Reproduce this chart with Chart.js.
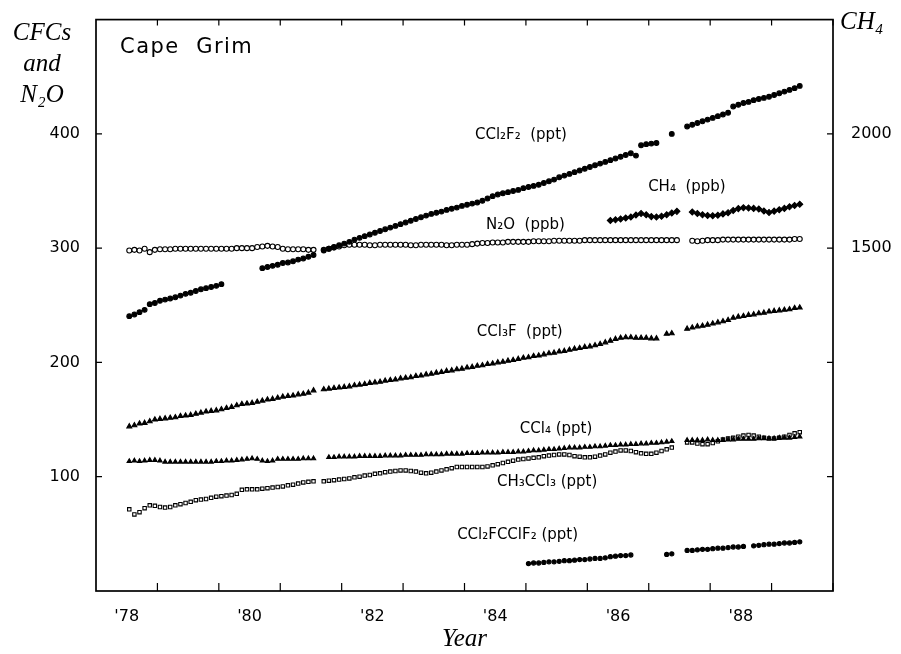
<!DOCTYPE html>
<html>
<head>
<meta charset="utf-8">
<script src="https://cdn.jsdelivr.net/npm/chart.js@4.4.0/dist/chart.umd.min.js"></script>
<style>
  html, body { margin: 0; padding: 0; background: #fff; }
  #wrap { width: 901px; height: 654px; }
</style>
</head>
<body>
<div id="wrap"><canvas id="cfc-chart" width="901" height="654"></canvas></div>
<script>
// monthly means, first value is July 1978
const firstMonth = 1978.5;

const yearTicks = [1979, 1980, 1981, 1982, 1983, 1984, 1985, 1986, 1987, 1988, 1989, 1990];
const labelYears = [1978, 1980, 1982, 1984, 1986, 1988];
const leftTicks = [100, 200, 300, 400];
const rightTicks = [500, 1000, 1500, 2000];
const rightLabels = [1500, 2000];

// CCl2F2 (ppt)
const cfc12 = [
  240.5, 242, 244, 246, 251, 252,
  254, 255, 256, 257, 258.5, 260, 261, 262.5, 264, 265, 266, 267,
  268.5, null, null, null, null, null, null, null, 282.5, 283.5, 284.5, 285.5,
  287, 287.5, 288.5, 290, 291, 292.5, 294, null, 298, 299.5, 301, 302.5,
  304, 305.5, 307.5, 309, 310.5, 312, 313.5, 315, 316.5, 318, 319.5, 321,
  322.5, 324, 325.5, 327, 328.5, 330, 331, 332, 333.5, 334.5, 335.5, 337,
  338, 339, 340, 341.5, 343.5, 345.5, 347, 348, 349, 350, 351, 352.5,
  353.5, 354.5, 355.5, 357, 358.5, 360, 362, 363.5, 365, 366.5, 368, 369.5,
  371, 372.5, 374, 375.5, 377, 378.5, 380, 381.5, 383, 381, 390, 391,
  391.5, 392, null, null, 400, null, null, 406.5, 408, 409.5, 411, 412.5,
  414, 415.5, 417, 418.5, 424, 425.5, 427, 428, 429.5, 430.5, 431.5, 432.5,
  434, 435.5, 437, 438.5, 440, 442
];

// N2O (ppb)
const n2o = [
  298, 298.5, 298, 299.5, 296.5, 298.5,
  299, 299, 299, 299.5, 299.5, 299.5, 299.5, 299.5, 299.5, 299.5, 299.5, 299.5,
  299.5, 299.5, 299.5, 300, 300, 300, 300, 301, 301.5, 302, 301.5, 301,
  299.5, 299, 299, 299, 299, 298.5, 298.5, null, 298.5, 299.5, 300.5, 301.5,
  302.5, 303, 303, 303, 303, 302.5, 302.5, 303, 303, 303, 303, 303,
  303, 302.5, 302.5, 303, 303, 303, 303, 303, 302.5, 302.5, 303, 303,
  303, 303.5, 304, 304.5, 304.5, 305, 305, 305, 305.5, 305.5, 305.5, 305.5,
  305.5, 306, 306, 306, 306, 306.5, 306.5, 306.5, 306.5, 306.5, 306.5, 307,
  307, 307, 307, 307, 307, 307, 307, 307, 307, 307, 307, 307,
  307, 307, 307, 307, 307, 307, null, null, 306.5, 306, 306.5, 307,
  307, 307, 307.5, 307.5, 307.5, 307.5, 307.5, 307.5, 307.5, 307.5, 307.5, 307.5,
  307.5, 307.5, 307.5, 307.5, 308, 308
];

// CH4 (ppb), starts May 1986
const ch4Start = 94;
const ch4 = [
  1621, 1624, 1628, 1632, 1636, 1645, 1652, 1646,
  1638, 1636, 1640, 1646, 1654, 1661, null, null, 1658, 1652, 1646, 1643,
  1642, 1644, 1650, 1655, 1665, 1673, 1677, 1676, 1674, 1671, 1663, 1656,
  1662, 1668, 1674, 1681, 1687, 1692
];

// CCl3F (ppt)
const cfc11 = [
  144, 145, 146.5, 147, 148.5, 150,
  150.5, 151, 151.5, 152, 153, 153.5, 154, 155, 156, 157, 157.5, 158,
  159, 160, 161, 162.5, 163.5, 164, 164.5, 165.5, 166.5, 167.5, 168, 169,
  170, 170.5, 171, 172, 172.5, 173.5, 175.5, null, 176.5, 177, 177.5, 178,
  178.5, 179, 180, 180.5, 181, 182, 182.5, 183, 184, 184.5, 185, 186,
  186.5, 187, 188, 188.5, 189.5, 190, 191, 191.5, 192.5, 193, 194, 194.5,
  195.5, 196, 197, 197.5, 198.5, 199, 200, 200.5, 201.5, 202, 203, 204,
  204.5, 205.5, 206, 207, 208, 208.5, 209.5, 210, 211, 212, 212.5, 213.5,
  214, 215, 216, 217.5, 219, 220.5, 221.5, 222, 222, 221.5, 221.5, 221.5,
  221, 221, null, 225, 225.5, null, null, 229.5, 230.5, 231.5, 232, 233,
  234, 235, 236, 237, 239, 240, 240.5, 241.5, 242, 243, 243.5, 244.5,
  245, 245.5, 246, 246.5, 247.5, 248
];

// CCl4 (ppt)
const ccl4 = [
  113.5, 114, 113.5, 114, 114.5, 114.5,
  114, 113, 113, 113, 113, 113, 113, 113, 113, 113, 113, 113.5,
  113.5, 114, 114, 114.5, 115, 115.5, 116, 115.5, 114, 113.5, 114, 115.5,
  115.5, 115.5, 115.5, 115.5, 116, 116, 116, null, null, 117, 117, 117.5,
  117.5, 117.5, 117.5, 118, 118, 118, 118, 118, 118.5, 118.5, 118.5, 118.5,
  119, 119, 119, 119, 119.5, 119.5, 119.5, 119.5, 120, 120, 120, 120,
  120.5, 120.5, 120.5, 121, 121, 121, 121, 121.5, 121.5, 121.5, 122, 122,
  122.5, 123, 123, 123.5, 124, 124, 124.5, 125, 125.5, 125.5, 125.5, 126,
  126, 126.5, 126.5, 127, 127.5, 127.5, 128, 128, 128.5, 128.5, 129, 129,
  129.5, 129.5, 130, 130.5, 131, null, null, 132, 132, 132, 132, 132.5,
  132, 132, 132, 132.5, 132.5, 133, 133, 133, 133, 133.5, 133.5, 133.5,
  133.5, 134, 134, 134, 134.5, 135
];

// CH3CCl3 (ppt)
const ch3ccl3 = [
  71.5, 67, 69, 72.5, 75, 74.5,
  73.5, 73, 73.5, 75, 76, 77, 78, 79.5, 80, 80.5, 81.5, 82.5,
  83, 83.5, 84, 85, 88.5, 89, 89, 89, 89.5, 90, 90.5, 91,
  91.5, 92.5, 93, 94, 95, 95.5, 96, null, 96, 96.5, 97, 97.5,
  98, 98.5, 99.5, 100, 101, 101.5, 102.5, 103, 104, 104.5, 105, 105.5,
  105.5, 105, 104.5, 103.5, 103, 103.5, 104.5, 105.5, 106.5, 107.5, 108.5, 108.5,
  108.5, 108.5, 108.5, 108.5, 109, 110, 111, 112, 113, 114, 115, 115.5,
  116, 116.5, 117, 118, 118.5, 119, 119.5, 119.5, 119, 118, 117.5, 117,
  117, 117.5, 118.5, 119.5, 121, 122, 123, 123, 122.5, 121.5, 120.5, 120,
  120, 121, 122.5, 124, 125.5, null, null, 130, 130, 129, 128.5, 128.5,
  129.5, 131, 132.5, 133.5, 134, 135, 136, 136.5, 136, 135, 134, 133.5,
  133.5, 134, 135, 136.5, 138, 139
];

// CCl2FCClF2 (ppt), starts January 1985
const cfc113Start = 78;
const cfc113 = [
  24, 24.5, 24.5, 25, 25.5, 25.5, 26, 26.5, 26.5, 27, 27.5, 27.5,
  28, 28.5, 28.5, 29, 30, 30.5, 31, 31, 31.5,
  null, null, null, null, null, null, 32, 32.5, null, null,
  35.5, 35.5, 36, 36.5, 36.5, 37, 37.5, 37.5, 38, 38.5, 38.5, 39, null,
  39.5, 40, 40.5, 41, 41, 41.5, 42, 42, 42.5, 43
];

// text placed in the plot, at year / left-axis value
const seriesLabels = [
  { text: "CCl\u2082F\u2082  (ppt)", year: 1984.17, value: 398.5 },
  { text: "CH\u2084  (ppb)", year: 1986.99, value: 353 },
  { text: "N\u2082O  (ppb)", year: 1984.35, value: 320 },
  { text: "CCl\u2083F  (ppt)", year: 1984.2, value: 226.5 },
  { text: "CCl\u2084 (ppt)", year: 1984.9, value: 141.5 },
  { text: "CH\u2083CCl\u2083 (ppt)", year: 1984.53, value: 95 },
  { text: "CCl\u2082FCClF\u2082 (ppt)", year: 1983.88, value: 48.5 }
];

const toPoints = (values, start) => values.map((v, k) => ({ x: firstMonth + (start + k + 0.5) / 12, y: v }));

const markers = (data, style, radius, filled, axis) => ({
  data: data,
  yAxisID: axis || "y",
  showLine: false,
  pointStyle: style,
  pointRadius: radius,
  pointBorderWidth: 1.1,
  pointBorderColor: "#000",
  pointBackgroundColor: filled ? "#000" : "#fff"
});

//drawing the frame, inward ticks and all the text
const framePlugin = {
  id: "frame",
  afterDraw(chart) {
    const { ctx, chartArea: a, scales } = chart;
    ctx.save();
    ctx.strokeStyle = "#000";
    ctx.lineWidth = 1.7;
    ctx.strokeRect(a.left, a.top, a.right - a.left, a.bottom - a.top);

    ctx.lineWidth = 1.2;
    ctx.beginPath();
    yearTicks.forEach(yr => {
      const px = scales.x.getPixelForValue(yr);
      ctx.moveTo(px, a.bottom); ctx.lineTo(px, a.bottom - 8);
      ctx.moveTo(px, a.top); ctx.lineTo(px, a.top + 6);
    });
    leftTicks.forEach(v => {
      const py = scales.y.getPixelForValue(v);
      ctx.moveTo(a.left, py); ctx.lineTo(a.left + 6, py);
    });
    rightTicks.forEach(v => {
      const py = scales.y2.getPixelForValue(v);
      ctx.moveTo(a.right, py); ctx.lineTo(a.right - 6, py);
    });
    ctx.stroke();

    ctx.fillStyle = "#000";
    ctx.textBaseline = "middle";
    ctx.textAlign = "left";
    ctx.font = "15px 'DejaVu Sans'";
    seriesLabels.forEach(l => {
      ctx.fillText(l.text, scales.x.getPixelForValue(l.year), scales.y.getPixelForValue(l.value));
    });

    ctx.font = "21px 'DejaVu Sans'";
    ctx.letterSpacing = "1.5px";
    ctx.fillText("Cape  Grim", 120, 48);
    ctx.letterSpacing = "0px";

    ctx.textBaseline = "alphabetic";
    ctx.font = "italic 25px 'Liberation Serif', 'DejaVu Serif', serif";
    ctx.textAlign = "center";
    ctx.fillText("CFCs", 42, 40);
    ctx.fillText("and", 42, 71);
    ctx.fillText("N\u2082O", 42, 102);
    ctx.fillText("Year", (a.left + a.right) / 2, 646);
    ctx.textAlign = "left";
    ctx.fillText("CH\u2084", 840, 29);
    ctx.restore();
  }
};

const tickFont = { family: "DejaVu Sans", size: 16 };

new Chart("cfc-chart", {
  type: "scatter",
  data: {
    datasets: [
      markers(toPoints(cfc12, 0), "circle", 2.4, true),
      markers(toPoints(n2o, 0), "circle", 2.5, false),
      markers(toPoints(ch4, ch4Start), "rectRot", 3, true, "y2"),
      markers(toPoints(cfc11, 0), "triangle", 2.8, true),
      markers(toPoints(ccl4, 0), "triangle", 2.5, true),
      markers(toPoints(ch3ccl3, 0), "rect", 2.4, false),
      markers(toPoints(cfc113, cfc113Start), "circle", 2.1, true)
    ]
  },
  options: {
    responsive: false,
    animation: false,
    devicePixelRatio: 1,
    layout: { padding: { top: 16, left: 0, right: 0, bottom: 0 } },
    plugins: { legend: { display: false }, tooltip: { enabled: false } },
    scales: {
      x: {
        type: "linear",
        position: "bottom",
        min: 1978,
        max: 1990,
        afterBuildTicks: s => { s.ticks = labelYears.map(yr => ({ value: yr + 0.5 })); },
        afterFit: s => { s.height = 63; },
        grid: { display: false },
        border: { display: false },
        ticks: {
          font: tickFont, color: "#000", padding: 8, maxRotation: 0, autoSkip: false,
          callback: v => "'" + String(Math.floor(v)).slice(2)
        }
      },
      y: {
        position: "left",
        min: 0,
        max: 500,
        afterBuildTicks: s => { s.ticks = leftTicks.map(v => ({ value: v })); },
        afterFit: s => { s.width = 96; },
        grid: { display: false },
        border: { display: false },
        ticks: { font: tickFont, color: "#000", padding: 8, callback: v => String(v) }
      },
      y2: {
        position: "right",
        min: 0,
        max: 2500,
        afterBuildTicks: s => { s.ticks = rightLabels.map(v => ({ value: v })); },
        afterFit: s => { s.width = 68; },
        grid: { display: false },
        border: { display: false },
        ticks: { font: tickFont, color: "#000", padding: 10, callback: v => String(v) }
      }
    }
  },
  plugins: [framePlugin]
});
</script>
</body>
</html>
